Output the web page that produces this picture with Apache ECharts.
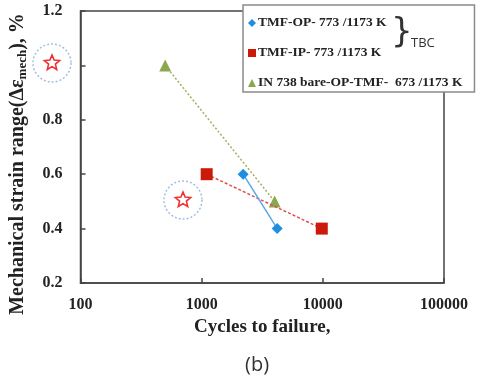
<!DOCTYPE html>
<html>
<head>
<meta charset="utf-8">
<script src="https://cdn.jsdelivr.net/npm/echarts@6/dist/echarts.min.js"></script>
<style>
  html, body { margin: 0; padding: 0; background: #fff; }
  #main { width: 486px; height: 383px; }
</style>
</head>
<body>
<div id="main"></div>
<script>
// 数据
var seriesNames = ['TMF-OP- 773 /1173 K', 'TMF-IP- 773 /1173 K', 'IN 738 bare-OP-TMF-  673 /1173 K'];
var opCycles = [2200, 4200];
var opStrain = [0.6, 0.4];
var ipCycles = [1100, 9800];
var ipStrain = [0.6, 0.4];
var bareCycles = [500, 4000];
var bareStrain = [1.0, 0.5];
var xTicks = [100, 1000, 10000, 100000];
var yTickLabels = ['0.2', '0.4', '0.6', '0.8', '', '1.2']; // 1.0 被星号标记遮住

function pairs(xs, ys) {
  return xs.map(function (x, i) { return [x, ys[i]]; });
}

// 空心五角星
function starPoints(cx, cy, R, r) {
  var pts = [];
  for (var i = 0; i < 10; i++) {
    var a = -Math.PI / 2 + i * Math.PI / 5;
    var rr = i % 2 === 0 ? R : r;
    pts.push([cx + rr * Math.cos(a), cy + rr * Math.sin(a)]);
  }
  return pts;
}

function starMark(cx, cy) {
  return {
    type: 'group',
    children: [
      { type: 'circle', shape: { cx: cx, cy: cy, r: 19 },
        style: { fill: 'none', stroke: '#9fc0e0', lineWidth: 1.5, lineDash: [2, 2] } },
      { type: 'polygon', shape: { points: starPoints(cx, cy, 8, 3.6) },
        style: { fill: 'none', stroke: '#f03030', lineWidth: 1.6 } }
    ]
  };
}

var serif = 'Liberation Serif';

var myChart = echarts.init(document.getElementById('main'));

var option = {
  backgroundColor: '#fff',
  animation: false,
  grid: {
    left: 78, right: 42, top: 11, bottom: 100,
    show: true, borderColor: '#444', borderWidth: 1.5, backgroundColor: 'transparent'
  },
  legend: {
    orient: 'vertical',
    left: 243, top: 5,
    padding: [11, 12, 2, 5],
    itemGap: 16,
    itemWidth: 8, itemHeight: 8,
    backgroundColor: '#fff',
    borderColor: '#8a8a8a', borderWidth: 1.5,
    textStyle: { fontFamily: serif, fontWeight: 'bold', fontSize: 13.5, color: '#222', padding: [0, 0, 0, -3] },
    data: [
      { name: seriesNames[0], icon: 'diamond' },
      { name: seriesNames[1], icon: 'rect' },
      { name: seriesNames[2], icon: 'triangle' }
    ]
  },
  xAxis: {
    type: 'log', logBase: 10, min: 100, max: 100000,
    name: 'Cycles to failure,',
    nameLocation: 'middle', nameGap: 32,
    nameTextStyle: { fontFamily: serif, fontWeight: 'bold', fontSize: 19, color: '#222' },
    axisLine: { lineStyle: { color: '#444', width: 1.5 } },
    axisTick: { inside: true, length: 5, lineStyle: { color: '#444', width: 1.5 } },
    minorTick: { show: false },
    splitLine: { show: false },
    axisLabel: {
      margin: 14, fontFamily: serif, fontWeight: 'bold', fontSize: 16, color: '#222',
      formatter: function (v) { return xTicks.indexOf(Math.round(v)) >= 0 ? String(Math.round(v)) : ''; }
    }
  },
  yAxis: {
    type: 'value', min: 0.2, max: 1.2, interval: 0.2,
    name: 'Mechanical strain range(Δε{sub|mech}), %',
    nameLocation: 'middle', nameGap: 51, nameRotate: 90,
    nameTextStyle: {
      fontFamily: serif, fontWeight: 'bold', fontSize: 20, color: '#222',
      padding: [0, 34, 0, 0],
      rich: { sub: { fontFamily: serif, fontWeight: 'bold', fontSize: 13, color: '#222', padding: [10, 0, 0, 0] } }
    },
    axisLine: { show: true, lineStyle: { color: '#444', width: 1.5 } },
    axisTick: { show: true, inside: true, length: 5, lineStyle: { color: '#444', width: 1.5 } },
    splitLine: { show: false },
    axisLabel: {
      margin: 18, fontFamily: serif, fontWeight: 'bold', fontSize: 16, color: '#222',
      formatter: function (v) { return yTickLabels[Math.round((v - 0.2) / 0.2)]; }
    }
  },
  series: [
    {
      name: seriesNames[0], type: 'line', data: pairs(opCycles, opStrain),
      symbol: 'diamond', symbolSize: 11,
      itemStyle: { color: '#1f8ee0' },
      lineStyle: { color: '#5aa9e6', width: 1.5, type: 'solid' },
      z: 4
    },
    {
      name: seriesNames[1], type: 'line', data: pairs(ipCycles, ipStrain),
      symbol: 'rect', symbolSize: 12,
      itemStyle: { color: '#cc1a0a' },
      lineStyle: { color: '#e05050', width: 1.5, type: [3, 2] },
      z: 3
    },
    {
      name: seriesNames[2], type: 'line', data: pairs(bareCycles, bareStrain),
      symbol: 'triangle', symbolSize: 12,
      itemStyle: { color: '#8ca84e' },
      lineStyle: { color: '#a0b060', width: 1.5, type: [2, 2] },
      z: 2
    }
  ],
  graphic: [
    starMark(52, 63),
    starMark(183, 200),
    { type: 'text', left: 391, top: 16, z: 100,
      style: { text: '}', font: '34px "DejaVu Sans"', fill: '#333' } },
    { type: 'text', left: 411, top: 37, z: 100,
      style: { text: 'TBC', font: '13px "Open Sans"', fill: '#333' } },
    { type: 'text', left: 245, top: 355,
      style: { text: '(b)', font: '20px "Open Sans"', fill: '#333' } }
  ]
};

myChart.setOption(option);
</script>
</body>
</html>
